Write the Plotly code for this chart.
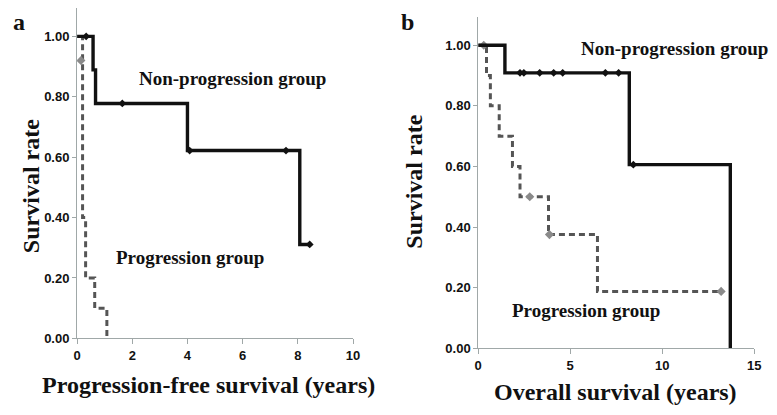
import plotly.graph_objects as go

# panel a: progression-free survival
pfs_nonprog_t = [0, 0.58, 0.67, 4.0, 8.07, 8.43]
pfs_nonprog_s = [1.0, 0.889, 0.778, 0.622, 0.311, 0.311]
pfs_nonprog_cens_t = [0.33, 1.64, 4.08, 7.57, 8.43]
pfs_nonprog_cens_s = [1.0, 0.778, 0.622, 0.622, 0.311]
pfs_prog_t = [0.12, 0.2, 0.31, 0.64, 1.08]
pfs_prog_s = [1.0, 0.4, 0.2, 0.1, 0.0]
pfs_prog_cens_t = [0.14]
pfs_prog_cens_s = [0.92]

# panel b: overall survival
os_nonprog_t = [0, 1.45, 8.21, 13.7]
os_nonprog_s = [1.0, 0.909, 0.606, 0.0]
os_nonprog_cens_t = [2.27, 2.48, 3.34, 4.1, 4.59, 6.91, 7.63, 8.43]
os_nonprog_cens_s = [0.909] * 7 + [0.606]
os_prog_t = [0, 0.45, 0.66, 1.14, 1.86, 2.27, 3.82, 6.48, 13.2]
os_prog_s = [1.0, 0.9, 0.8, 0.7, 0.6, 0.5, 0.375, 0.1875, 0.1875]
os_prog_cens_t = [0.3, 2.8, 3.87, 13.2]
os_prog_cens_s = [1.0, 0.5, 0.375, 0.1875]

y_ticks = [0, 0.2, 0.4, 0.6, 0.8, 1.0]
y_ticklabels = ["0.00", "0.20", "0.40", "0.60", "0.80", "1.00"]
xa_ticks = [0, 2, 4, 6, 8, 10]
xb_ticks = [0, 5, 10, 15]

BLACK = "#111111"
GRAY = "#555555"
MARK_GRAY = "#8a8a8a"
AXIS = "#a0a8a8"

# page body has an 8px margin, so the figure is drawn 8px smaller
W, H = 769, 407

fig = go.Figure()


def add_panel(xa, ya, prog_t, prog_s, pc_t, pc_s, non_t, non_s, nc_t, nc_s):
    fig.add_trace(go.Scatter(x=prog_t, y=prog_s, mode="lines", line_shape="hv",
                             line=dict(color=GRAY, width=3, dash="6px,4px"),
                             xaxis=xa, yaxis=ya))
    fig.add_trace(go.Scatter(x=pc_t, y=pc_s, mode="markers",
                             marker=dict(symbol="diamond", size=7, color=MARK_GRAY),
                             xaxis=xa, yaxis=ya))
    fig.add_trace(go.Scatter(x=non_t, y=non_s, mode="lines", line_shape="hv",
                             line=dict(color=BLACK, width=3.4),
                             xaxis=xa, yaxis=ya))
    fig.add_trace(go.Scatter(x=nc_t, y=nc_s, mode="markers",
                             marker=dict(symbol="diamond", size=6, color=BLACK),
                             xaxis=xa, yaxis=ya))


add_panel("x", "y", pfs_prog_t, pfs_prog_s, pfs_prog_cens_t, pfs_prog_cens_s,
          pfs_nonprog_t, pfs_nonprog_s, pfs_nonprog_cens_t, pfs_nonprog_cens_s)
add_panel("x2", "y2", os_prog_t, os_prog_s, os_prog_cens_t, os_prog_cens_s,
          os_nonprog_t, os_nonprog_s, os_nonprog_cens_t, os_nonprog_cens_s)

tick_font = dict(family="Liberation Sans, Arial", size=13, color="#111111",
                 weight="bold")
x_common = dict(showline=True, linecolor=AXIS, linewidth=1, showgrid=False,
                zeroline=False, ticks="outside", ticklen=5, tickcolor=AXIS,
                tickfont=tick_font)
y_common = dict(showline=True, linecolor=AXIS, linewidth=1, showgrid=False,
                zeroline=False, ticks="outside", ticklen=4, tickcolor=AXIS,
                tickfont=tick_font, tickvals=y_ticks, ticktext=y_ticklabels)

fig.update_layout(
    width=W, height=H,
    margin=dict(l=0, r=0, t=0, b=0),
    showlegend=False,
    plot_bgcolor="#FFF", paper_bgcolor="#FFF",
    font=dict(family="Liberation Serif, Times New Roman", color="#111111"),
    xaxis=dict(domain=[66 / W, 346 / W], range=[0, 10], tickvals=xa_ticks,
               anchor="y", **x_common),
    yaxis=dict(domain=[1 - 337 / H, 1.0], range=[0, 1.094], anchor="x", **y_common),
    xaxis2=dict(domain=[473 / W, 753 / W], range=[0, 15], tickvals=xb_ticks,
                anchor="y2", **x_common),
    yaxis2=dict(domain=[1 - 347 / H, 1 - 9 / H], range=[0, 1.094], anchor="x2",
                **y_common),
)

# panel letters sit against the top edge
for px_, txt in [(0, "a"), (394, "b")]:
    fig.add_annotation(x=px_ / W, y=1.0, xref="paper", yref="paper",
                       text="<b>%s</b>" % txt, showarrow=False,
                       xanchor="left", yanchor="top", borderpad=0,
                       font=dict(family="Liberation Serif, Times New Roman",
                                 size=24, color="#111111"))

notes = [
    (199, 385, "Progression-free survival (years)", 24, "center"),
    (612, 392, "Overall survival (years)", 24, "center"),
    (224, 72, "Non-progression group", 19, "center"),
    (181, 255, "Progression group", 19, "center"),
    (769, 41, "Non-progression group", 19, "right"),
    (582, 309, "Progression group", 19, "center"),
]
for px_, py_, txt, size, anchor in notes:
    fig.add_annotation(x=px_ / W, y=1 - py_ / H, xref="paper", yref="paper",
                       text="<b>%s</b>" % txt, showarrow=False,
                       xanchor=anchor, yanchor="middle",
                       font=dict(family="Liberation Serif, Times New Roman",
                                 size=size, color="#111111"))

for px_, py_ in [(20, 182), (407, 177)]:
    fig.add_annotation(x=px_ / W, y=1 - py_ / H, xref="paper", yref="paper",
                       text="<b>Survival rate</b>", showarrow=False, textangle=-90,
                       xanchor="center", yanchor="middle",
                       font=dict(family="Liberation Serif, Times New Roman",
                                 size=24, color="#111111"))

fig.write_html("out.html")
